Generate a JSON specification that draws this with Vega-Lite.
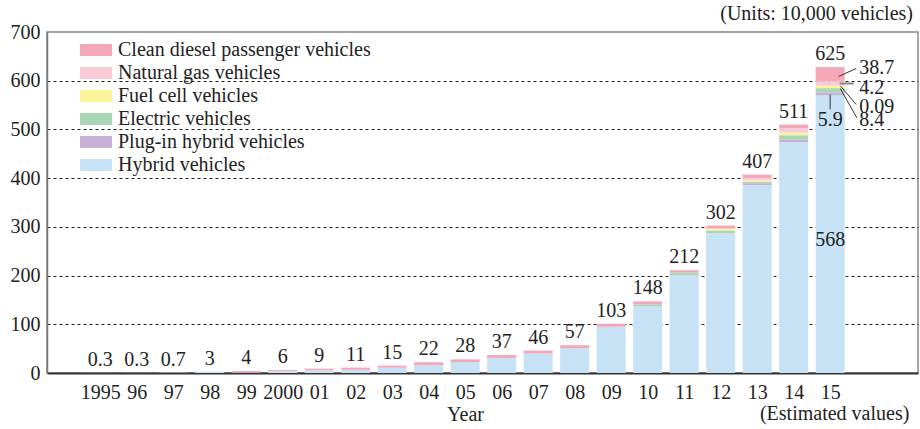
{
  "$schema": "https://vega.github.io/schema/vega-lite/v6.json",
  "width": 871,
  "height": 341,
  "autosize": {"type": "none"},
  "padding": {"left": 47, "top": 32, "right": 2, "bottom": 56},
  "background": "white",
  "config": {
    "font": "Liberation Serif",
    "view": {"stroke": "#888", "strokeWidth": 1.5},
    "text": {"font": "Liberation Serif"}
  },
  "datasets": {
    "types": [
      {"type": "Hybrid vehicles", "k": 1},
      {"type": "Plug-in hybrid vehicles", "k": 2},
      {"type": "Electric vehicles", "k": 3},
      {"type": "Fuel cell vehicles", "k": 4},
      {"type": "Natural gas vehicles", "k": 5},
      {"type": "Clean diesel passenger vehicles", "k": 6}
    ],
    "totals": [
      {"year": 1995, "label": "0.3"}, {"year": 1996, "label": "0.3"}, {"year": 1997, "label": "0.7"},
      {"year": 1998, "label": "3"}, {"year": 1999, "label": "4"}, {"year": 2000, "label": "6"},
      {"year": 2001, "label": "9"}, {"year": 2002, "label": "11"}, {"year": 2003, "label": "15"},
      {"year": 2004, "label": "22"}, {"year": 2005, "label": "28"}, {"year": 2006, "label": "37"},
      {"year": 2007, "label": "46"}, {"year": 2008, "label": "57"}, {"year": 2009, "label": "103"},
      {"year": 2010, "label": "148"}, {"year": 2011, "label": "212"}, {"year": 2012, "label": "302"},
      {"year": 2013, "label": "407"}, {"year": 2014, "label": "511"}, {"year": 2015, "label": "625"}
    ],
    "units": [
      {"year": 1995, "type": "Hybrid vehicles", "value": 0.3},
      {"year": 1996, "type": "Hybrid vehicles", "value": 0.3},
      {"year": 1997, "type": "Hybrid vehicles", "value": 0.7},
      {"year": 1998, "type": "Hybrid vehicles", "value": 3},
      {"year": 1999, "type": "Hybrid vehicles", "value": 0.5},
      {"year": 1999, "type": "Clean diesel passenger vehicles", "value": 3.5},
      {"year": 2000, "type": "Hybrid vehicles", "value": 4},
      {"year": 2000, "type": "Clean diesel passenger vehicles", "value": 2},
      {"year": 2001, "type": "Hybrid vehicles", "value": 5.5},
      {"year": 2001, "type": "Clean diesel passenger vehicles", "value": 3.5},
      {"year": 2002, "type": "Hybrid vehicles", "value": 6.5},
      {"year": 2002, "type": "Clean diesel passenger vehicles", "value": 4.5},
      {"year": 2003, "type": "Hybrid vehicles", "value": 11},
      {"year": 2003, "type": "Clean diesel passenger vehicles", "value": 4},
      {"year": 2004, "type": "Hybrid vehicles", "value": 16},
      {"year": 2004, "type": "Clean diesel passenger vehicles", "value": 6},
      {"year": 2005, "type": "Hybrid vehicles", "value": 22.5},
      {"year": 2005, "type": "Clean diesel passenger vehicles", "value": 5.5},
      {"year": 2006, "type": "Hybrid vehicles", "value": 31},
      {"year": 2006, "type": "Clean diesel passenger vehicles", "value": 6},
      {"year": 2007, "type": "Hybrid vehicles", "value": 40},
      {"year": 2007, "type": "Clean diesel passenger vehicles", "value": 6},
      {"year": 2008, "type": "Hybrid vehicles", "value": 51},
      {"year": 2008, "type": "Clean diesel passenger vehicles", "value": 6},
      {"year": 2009, "type": "Hybrid vehicles", "value": 95},
      {"year": 2009, "type": "Clean diesel passenger vehicles", "value": 6},
      {"year": 2010, "type": "Hybrid vehicles", "value": 137},
      {"year": 2010, "type": "Electric vehicles", "value": 4},
      {"year": 2010, "type": "Clean diesel passenger vehicles", "value": 6},
      {"year": 2011, "type": "Hybrid vehicles", "value": 200.5},
      {"year": 2011, "type": "Electric vehicles", "value": 5.5},
      {"year": 2011, "type": "Clean diesel passenger vehicles", "value": 5},
      {"year": 2012, "type": "Hybrid vehicles", "value": 287},
      {"year": 2012, "type": "Electric vehicles", "value": 5.5},
      {"year": 2012, "type": "Fuel cell vehicles", "value": 4},
      {"year": 2012, "type": "Clean diesel passenger vehicles", "value": 6.2},
      {"year": 2013, "type": "Hybrid vehicles", "value": 385.5},
      {"year": 2013, "type": "Plug-in hybrid vehicles", "value": 4.1},
      {"year": 2013, "type": "Electric vehicles", "value": 3.4},
      {"year": 2013, "type": "Fuel cell vehicles", "value": 2.7},
      {"year": 2013, "type": "Natural gas vehicles", "value": 4.7},
      {"year": 2013, "type": "Clean diesel passenger vehicles", "value": 6.8},
      {"year": 2014, "type": "Hybrid vehicles", "value": 473.8},
      {"year": 2014, "type": "Plug-in hybrid vehicles", "value": 5.5},
      {"year": 2014, "type": "Electric vehicles", "value": 8.8},
      {"year": 2014, "type": "Fuel cell vehicles", "value": 5.5},
      {"year": 2014, "type": "Natural gas vehicles", "value": 8.8},
      {"year": 2014, "type": "Clean diesel passenger vehicles", "value": 7.5},
      {"year": 2015, "type": "Hybrid vehicles", "value": 570},
      {"year": 2015, "type": "Plug-in hybrid vehicles", "value": 6},
      {"year": 2015, "type": "Electric vehicles", "value": 8.8},
      {"year": 2015, "type": "Fuel cell vehicles", "value": 4.7},
      {"year": 2015, "type": "Natural gas vehicles", "value": 9.7},
      {"year": 2015, "type": "Clean diesel passenger vehicles", "value": 28.8}
    ],
    "innerNotes": [
      {"year": 2015, "value": 274, "label": "568"},
      {"year": 2015, "value": 518.4, "label": "5.9"}
    ],
    "sideNotes": [
      {"year": 2015.794, "value": 625.1, "label": "38.7"},
      {"year": 2015.794, "value": 585.1, "label": "4.2"},
      {"year": 2015.794, "value": 546.1, "label": "0.09"},
      {"year": 2015.794, "value": 518.4, "label": "8.4"}
    ],
    "leaders": [
      {"year": 2015.233, "value": 608.7, "year2": 2015.713, "value2": 625.1, "label": "38.7"},
      {"year": 2015.287, "value": 588.8, "year2": 2015.713, "value2": 551.2, "label": "0.09"},
      {"year": 2015.279, "value": 583.5, "year2": 2015.732, "value2": 523.9, "label": "8.4"},
      {"year": 2015, "value": 571.7, "year2": 2015, "value2": 541, "label": "5.9"}
    ],
    "grayLeader": [
      {"year": 2015.26, "value": 594.3, "year2": 2015.65, "value2": 594.3, "label": "4.2"}
    ],
    "frameNotes": [
      {"year": 2017.27, "value": 723.7, "note": "(Units: 10,000 vehicles)"},
      {"year": 2017.17, "value": -95.5, "note": "(Estimated values)"}
    ]
  },
  "layer": [
    {
      "data": {"name": "units"},
      "transform": [{"lookup": "type", "from": {"data": {"name": "types"}, "key": "type", "fields": ["k"]}}],
      "mark": {"type": "bar", "size": 29},
      "encoding": {
        "x": {
          "field": "year", "type": "quantitative", "title": "Year",
          "scale": {"domain": [1993.68, 2017.27], "nice": false, "zero": false},
          "axis": {
            "values": [1995, 1996, 1997, 1998, 1999, 2000, 2001, 2002, 2003, 2004, 2005, 2006, 2007, 2008, 2009, 2010, 2011, 2012, 2013, 2014, 2015],
            "labelExpr": "datum.value == 1995 || datum.value == 2000 ? '' + datum.value : slice('' + datum.value, 2)",
            "ticks": false, "grid": false, "domainColor": "#333", "domainWidth": 2,
            "labelFontSize": 20, "labelColor": "#222", "labelPadding": 9, "labelOverlap": false, "labelFlush": false,
            "titleFontSize": 20, "titleFontWeight": "normal", "titleColor": "#222",
            "titleX": 418, "titleY": 47, "titleBaseline": "alphabetic", "titleAnchor": "start", "titleAlign": "center"
          }
        },
        "y": {
          "field": "value", "type": "quantitative", "stack": "zero", "title": null,
          "scale": {"domain": [0, 700], "nice": false},
          "axis": {
            "values": [0, 100, 200, 300, 400, 500, 600, 700],
            "ticks": false, "grid": true, "gridColor": "#222", "gridDash": [3, 3], "gridWidth": 1,
            "gridOpacity": {"condition": {"test": "datum.value == 0 || datum.value == 700", "value": 0}, "value": 1},
            "domainColor": "#777", "domainWidth": 1.5,
            "labelFontSize": 20, "labelColor": "#222", "labelPadding": 7
          }
        },
        "color": {
          "field": "type", "type": "nominal",
          "scale": {
            "domain": ["Clean diesel passenger vehicles", "Natural gas vehicles", "Fuel cell vehicles", "Electric vehicles", "Plug-in hybrid vehicles", "Hybrid vehicles"],
            "range": ["#f4a7b9", "#f9cbd4", "#fbf49a", "#a9d6b5", "#c7b2d6", "#c6e2f4"]
          },
          "legend": {
            "orient": "none", "legendX": 39, "legendY": 8, "title": null,
            "symbolType": "M-2.67,-1H2.67V1H-2.67Z", "symbolSize": 144, "symbolStrokeWidth": 0, "symbolOpacity": 1,
            "labelFontSize": 20, "labelOffset": 12, "rowPadding": 3, "labelColor": "#222", "labelLimit": 400, "padding": 0
          }
        },
        "order": {"field": "k", "type": "quantitative", "sort": "ascending"}
      }
    },
    {
      "data": {"name": "units"},
      "transform": [
        {"aggregate": [{"op": "sum", "field": "value", "as": "top"}], "groupby": ["year"]},
        {"lookup": "year", "from": {"data": {"name": "totals"}, "key": "year", "fields": ["label"]}}
      ],
      "mark": {"type": "text", "fontSize": 20, "dy": -7, "baseline": "alphabetic", "align": "center", "color": "#222"},
      "encoding": {
        "x": {"field": "year", "type": "quantitative", "title": "Year"},
        "y": {"field": "top", "type": "quantitative", "title": null},
        "text": {"field": "label"}
      }
    },
    {
      "data": {"name": "leaders"},
      "mark": {"type": "rule", "color": "#333", "strokeWidth": 1},
      "encoding": {
        "x": {"field": "year", "type": "quantitative", "title": "Year"},
        "y": {"field": "value", "type": "quantitative", "title": null},
        "x2": {"field": "year2"},
        "y2": {"field": "value2"}
      }
    },
    {
      "data": {"name": "grayLeader"},
      "mark": {"type": "rule", "color": "#888", "strokeWidth": 2},
      "encoding": {
        "x": {"field": "year", "type": "quantitative", "title": "Year"},
        "y": {"field": "value", "type": "quantitative", "title": null},
        "x2": {"field": "year2"},
        "y2": {"field": "value2"}
      }
    },
    {
      "data": {"name": "innerNotes"},
      "mark": {"type": "text", "fontSize": 20, "baseline": "middle", "align": "center", "color": "#222"},
      "encoding": {
        "x": {"field": "year", "type": "quantitative", "title": "Year"},
        "y": {"field": "value", "type": "quantitative", "title": null},
        "text": {"field": "label"}
      }
    },
    {
      "data": {"name": "sideNotes"},
      "mark": {"type": "text", "fontSize": 20, "baseline": "middle", "align": "left", "color": "#222"},
      "encoding": {
        "x": {"field": "year", "type": "quantitative", "title": "Year"},
        "y": {"field": "value", "type": "quantitative", "title": null},
        "text": {"field": "label"}
      }
    },
    {
      "data": {"name": "frameNotes"},
      "mark": {"type": "text", "fontSize": 20, "baseline": "alphabetic", "align": "right", "color": "#222"},
      "encoding": {
        "x": {"field": "year", "type": "quantitative", "title": "Year"},
        "y": {"field": "value", "type": "quantitative", "title": null},
        "text": {"field": "note"}
      }
    }
  ]
}
